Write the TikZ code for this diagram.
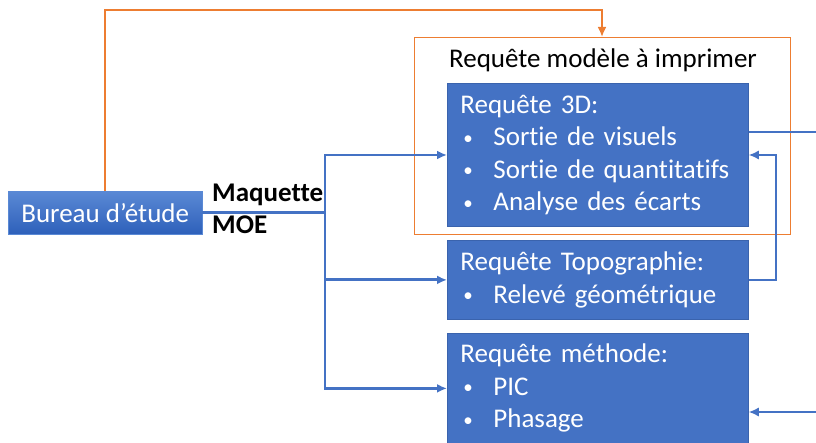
\documentclass[tikz,border=0pt]{standalone}
\usepackage{fontspec}
\setmainfont{Carlito}[Ligatures=NoCommon]
\usetikzlibrary{arrows.meta,positioning}
\definecolor{boxblue}{HTML}{4472C4}
\definecolor{edgeblue}{HTML}{3A63AD}
\definecolor{topblue}{HTML}{5A89D5}
\definecolor{botblue}{HTML}{2E60BA}
\definecolor{orange}{HTML}{ED7D31}
\newcommand{\itm}[1]{\makebox[33pt][l]{\hspace{3pt}\raisebox{1.5pt}{\fontsize{19}{19}\selectfont\textbullet}}#1}
\tikzset{
  req/.style={
    draw=edgeblue, fill=boxblue, line width=0.8pt,
    text=white, align=left, anchor=north west,
    inner xsep=13pt, inner ysep=0pt,
    minimum width=301pt, text width=275pt,
    font=\fontsize{27}{32.5}\selectfont
  },
  frame/.style={draw=orange, line width=1.4pt, anchor=north west, inner sep=0pt},
  fatarr/.style={-{Latex[length=10pt,width=9pt]}, line width=2.8pt, draw=boxblue},
  thinarr/.style={-{Latex[length=10pt,width=9pt]}, line width=1.3pt, draw=boxblue},
  orangearr/.style={-{Latex[length=10pt,width=9pt]}, line width=2.8pt, draw=orange}
}
\begin{document}
\begin{tikzpicture}[x=1pt, y=-1pt]
  \useasboundingbox (0,0) rectangle (816,443);
  \node[frame, minimum width=376pt, minimum height=197pt] (frame) at (414,37) {};
  \node[font=\fontsize{27}{32}\selectfont] (title) at (603,60) {Requête modèle à imprimer};
  \node[req, minimum height=143pt] (req3d) at (447,83)
    {Requête 3D:\\\itm{Sortie de visuels}\\\itm{Sortie de quantitatifs}\\\itm{Analyse des écarts}};
  \node[req, minimum height=79pt] (topo) at (447,240)
    {Requête Topographie:\\\itm{Relevé géométrique}};
  \node[req, minimum height=110pt] (meth) at (447,333)
    {Requête méthode:\\\itm{PIC}\\\itm{Phasage}};
  \node[anchor=north west, minimum width=194pt, minimum height=43pt, inner sep=0pt,
    top color=topblue, bottom color=botblue, draw=topblue, text=white,
    font=\fontsize{27}{32}\selectfont] (bureau) at (8,191) {Bureau d’étude};
  \node[anchor=base west, inner sep=0pt, font=\fontsize{27}{32}\selectfont\bfseries] (maq) at (212,202) {Maquette};
  \node[anchor=base west, inner sep=0pt, font=\fontsize{27}{32}\selectfont\bfseries] (moe) at (212,234) {MOE};
  % branches
  \coordinate (j1) at (325,155);
  \draw[fatarr] (bureau.east) -| (j1) -- (j1 -| req3d.west);
  \draw[fatarr] (j1) |- (topo.west);
  \draw[fatarr] (j1) |- (meth.west);
  % orange link
  \coordinate (otop) at (602,10);
  \draw[orangearr] ([xshift=97pt]bureau.north west) |- (otop) -- (otop |- frame.north);
  % feedback links
  \coordinate (fb) at (776,155);
  \coordinate (outa) at (816,132);
  \coordinate (inb) at (816,412);
  \draw[thinarr] (topo.east) -| (fb) -- (fb -| req3d.east);
  \draw[line width=1.3pt, draw=boxblue] (outa -| req3d.east) -- (outa);
  \draw[thinarr] (inb) -- (inb -| meth.east);
\end{tikzpicture}
\end{document}
